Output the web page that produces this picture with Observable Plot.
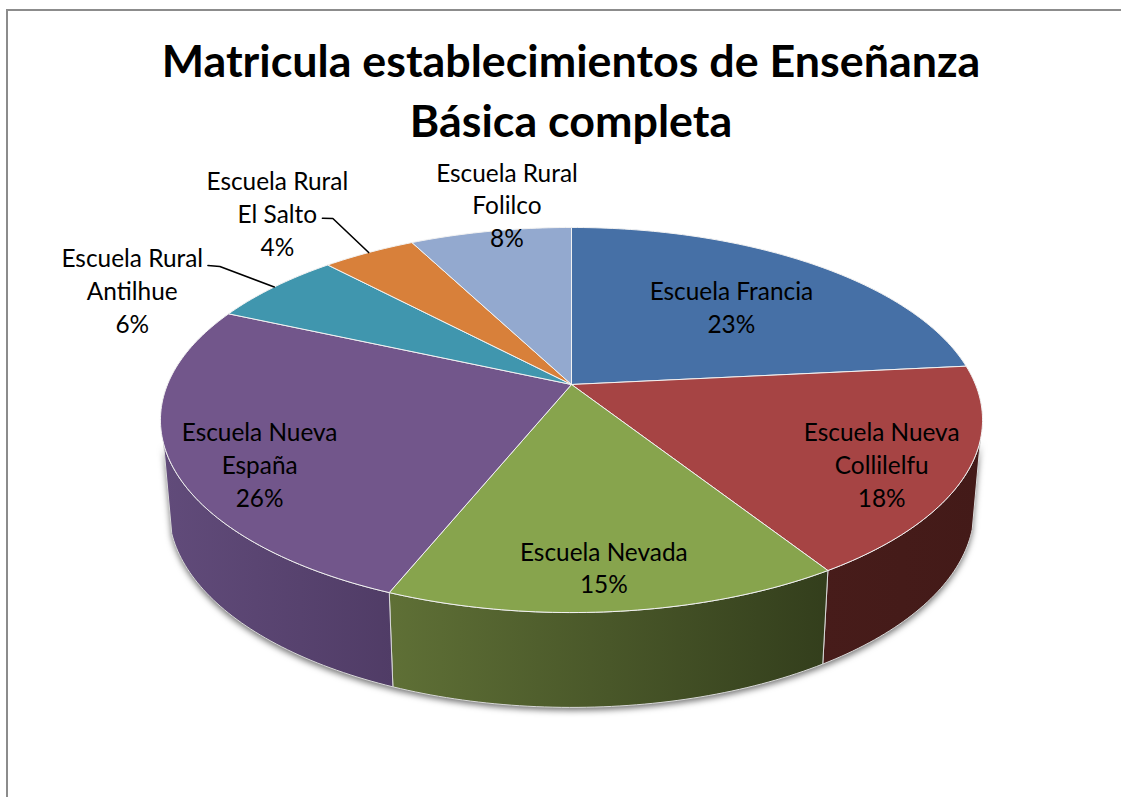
<!DOCTYPE html>
<html lang="es">
<head>
<meta charset="utf-8">
<script src="https://cdn.jsdelivr.net/npm/d3@7"></script>
<script src="https://cdn.jsdelivr.net/npm/@observablehq/plot@0.6"></script>
<style>
  html, body { margin: 0; padding: 0; background: #fff; overflow: hidden; }
  #frame { position: absolute; left: 6px; top: 9px; right: 0; bottom: 0; border-top: 2px solid #8c8c8c; border-left: 2px solid #8c8c8c; }
  h1 { margin: 19px 0 0 0; padding-left: 13px; height: 122px; text-align: center; font: 700 44.8px/60px Lato, sans-serif; color: #000; }
</style>
</head>
<body>
<div id="frame">
  <h1>Matricula establecimientos de Enseñanza<br>Básica completa</h1>
  <div id="chart"></div>
</div>
<script>
const names = ["Escuela Francia", "Escuela Nueva Collilelfu", "Escuela Nevada", "Escuela Nueva España", "Escuela Rural Antilhue", "Escuela Rural El Salto", "Escuela Rural Folilco"];
const labelLines = ["Escuela Francia", "Escuela Nueva\nCollilelfu", "Escuela Nevada", "Escuela Nueva\nEspaña", "Escuela Rural\nAntilhue", "Escuela Rural\nEl Salto", "Escuela Rural\nFolilco"];
const shares = [23.4, 17.6, 15.1, 25.6, 6.3, 4.4, 7.6];
const topColors = ["#4670A6", "#A64444", "#87A44D", "#72568B", "#4096AE", "#D8803A", "#93A9CF"];
const sideStops = [null, ["#471C1A", "#431A18"], ["#5F7036", "#333E1C"], ["#614B7A", "#503C66"], null, null, null];

// Label placement in pie terms: degrees clockwise from the top, and radius as a fraction of the pie
const labelTurn = [44.1, 119.9, 175.4, 240.3, 294.5, 321.3, 350.5];
const labelRadius = [0.615, 0.819, 0.843, 0.822, 1.315, 1.399, 1.175];
const leaderTurn = { 4: [305.4, 306.1], 5: [325.4, 326.5] };
const leaderRadius = { 4: [1.2515, 1.22], 5: [1.30, 1.281] };

// Perspective view of the tilted disc
const k = -0.1844, A = 186, C = 404;
const bottomScaleX = 0.98, bottomScaleY = 1.03, bottomDrop = 88;
const visibleFrom = 106.3, visibleTo = 252.5;
const rad = Math.PI / 180;

function project(turn, r = 1, bottom = false) {
  const u = r * Math.sin(turn * rad), v = -r * Math.cos(turn * rad), d = 1 + k * v;
  let x = C * u / d, y = A * v / d;
  if (bottom) { x *= bottomScaleX; y = y * bottomScaleY + bottomDrop; }
  return {x, y};
}
function arc(a0, a1, bottom = false) {
  const n = Math.max(2, Math.ceil(Math.abs(a1 - a0)));
  return d3.range(n + 1).map(i => project(a0 + (a1 - a0) * i / n, 1, bottom));
}

const cumulative = d3.cumsum(shares);
const total = d3.sum(shares);
const slices = names.map((name, i) => ({
  name, i,
  a0: (i ? cumulative[i - 1] : 0) / total * 360,
  a1: cumulative[i] / total * 360
}));

const topPoints = slices.flatMap(s => {
  const ring = [project(0, 0), ...arc(s.a0, s.a1), project(0, 0)];
  return ring.map(p => ({...p, name: s.name}));
});

const sideSlices = slices.filter(s => sideStops[s.i]).map(s => {
  const a0 = Math.max(s.a0, visibleFrom), a1 = Math.min(s.a1, visibleTo);
  const pts = [...arc(a0, a1), ...arc(a1, a0, true)];
  pts.push(pts[0]);
  return {...s, pts};
});
const silhouette = [...arc(visibleFrom, visibleTo), ...arc(visibleTo, visibleFrom, true)];

const labels = slices.map(s => {
  const p = project(labelTurn[s.i], labelRadius[s.i]);
  return {...p, text: `${labelLines[s.i]}\n${d3.format(".0f")(shares[s.i])}%`};
});

const leaders = Object.keys(leaderTurn).flatMap(key => {
  const s = slices[+key];
  const pts = [
    ...leaderTurn[key].map((t, j) => project(t, leaderRadius[key][j])),
    project((s.a0 + s.a1) / 2, 1)
  ];
  return pts.map(p => ({...p, name: s.name}));
});

function gradientDefs() {
  const ns = "http://www.w3.org/2000/svg";
  const g = document.createElementNS(ns, "defs");
  sideSlices.forEach(s => {
    const lg = document.createElementNS(ns, "linearGradient");
    lg.setAttribute("id", `side-${s.i}`);
    lg.setAttribute("x1", "0"); lg.setAttribute("x2", "1");
    lg.setAttribute("y1", "0"); lg.setAttribute("y2", "0");
    sideStops[s.i].forEach((c, j) => {
      const stop = document.createElementNS(ns, "stop");
      stop.setAttribute("offset", j ? "1" : "0");
      stop.setAttribute("stop-color", c);
      lg.appendChild(stop);
    });
    g.appendChild(lg);
  });
  return g;
}

const chart = Plot.plot({
  width: 1113, height: 634,
  margin: 0,
  x: {axis: null, domain: [-563, 550], range: [0, 1113]},
  y: {axis: null, domain: [-232, 402], range: [0, 634]},
  color: {domain: names, range: topColors},
  style: {fontFamily: "Lato, sans-serif", background: "transparent"},
  marks: [
    gradientDefs,
    Plot.line(silhouette, {x: "x", y: "y", fill: "#777", stroke: "none", imageFilter: "drop-shadow(0px 3px 3px rgba(0,0,0,0.55))"}),
    ...sideSlices.map(s => Plot.line(s.pts, {x: "x", y: "y", fill: `url(#side-${s.i})`, stroke: "#d9d9d9", strokeWidth: 1})),
    Plot.line(topPoints, {x: "x", y: "y", z: "name", fill: "name", stroke: "#f2f2f2", strokeWidth: 1}),
    Plot.line(leaders, {x: "x", y: "y", z: "name", stroke: "#000", strokeWidth: 1.6}),
    Plot.text(labels, {x: "x", y: "y", dy: -3, text: "text", fontSize: 24.4, lineHeight: 1.35, fill: "#000", textAnchor: "middle"})
  ]
});
document.getElementById("chart").appendChild(chart);
</script>
</body>
</html>
